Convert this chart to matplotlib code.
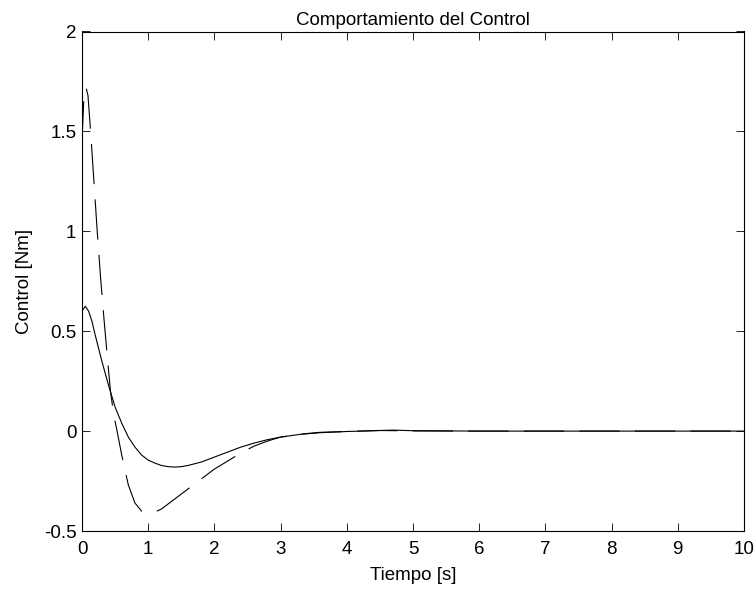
import matplotlib
matplotlib.use("Agg")
import matplotlib.pyplot as plt

plt.rcParams['font.family'] = ['Liberation Sans', 'DejaVu Sans']
plt.rcParams['lines.scale_dashes'] = False

# solid curve
t_solid = [0, 0.05, 0.1, 0.15, 0.2, 0.3, 0.4, 0.5, 0.6, 0.7, 0.8, 0.9, 1.0,
           1.1, 1.2, 1.3, 1.4, 1.5, 1.6, 1.8, 2.0, 2.2, 2.4, 2.6, 2.8, 3.0,
           3.3, 3.6, 4.0, 4.4, 4.7, 5.0, 6, 7, 8, 9, 10]
u_solid = [0.60, 0.625, 0.60, 0.55, 0.48, 0.35, 0.23, 0.12, 0.04, -0.03,
           -0.08, -0.12, -0.145, -0.16, -0.172, -0.178, -0.18, -0.178,
           -0.172, -0.155, -0.13, -0.105, -0.08, -0.06, -0.043, -0.03,
           -0.016, -0.008, -0.002, 0.002, 0.005, 0.002, 0, 0, 0, 0, 0]

# dashed curve
t_dash = [0, 0.03, 0.06, 0.09, 0.13, 0.18, 0.23, 0.28, 0.33, 0.38, 0.43,
          0.48, 0.53, 0.6, 0.7, 0.8, 0.9, 1.0, 1.1, 1.2, 1.4, 1.6, 1.8,
          2.0, 2.2, 2.4, 2.6, 2.8, 3.0, 3.3, 3.6, 4.0, 4.5, 5, 6, 10]
u_dash = [1.45, 1.68, 1.72, 1.68, 1.5, 1.25, 1.0, 0.77, 0.57, 0.38, 0.2,
          0.08, 0.0, -0.12, -0.27, -0.36, -0.40, -0.41, -0.405, -0.39,
          -0.34, -0.29, -0.24, -0.19, -0.15, -0.11, -0.075, -0.05, -0.03,
          -0.015, -0.006, -0.002, 0.003, 0.001, 0, 0]

xticks = list(range(0, 11))
yticks = [-0.5, 0, 0.5, 1, 1.5, 2]
ytick_labels = ['-0.5', '0', '0.5', '1', '1.5', '2']

fig = plt.figure(figsize=(7.56, 5.89), dpi=100)
ax = fig.add_axes([82 / 756, 1 - 531 / 589, (744 - 82) / 756, (531 - 31.5) / 589])

ax.plot(t_solid, u_solid, color='black', lw=0.8)
ax.plot(t_dash, u_dash, color='black', lw=0.8, dashes=(29, 11))

ax.set_xlim(0, 10)
ax.set_ylim(-0.5, 2)
ax.set_xticks(xticks)
ax.set_yticks(yticks)
ax.set_yticklabels(ytick_labels)
ax.tick_params(direction='in', top=True, right=True, length=5.8, width=0.6,
               labelsize=13.5)
ax.tick_params(axis='y', pad=4)
ax.tick_params(axis='x', pad=7)
for s in ax.spines.values():
    s.set_linewidth(0.8)

ax.set_title('Comportamiento del Control', fontsize=13.5, pad=4.5)
ax.set_xlabel('Tiempo [s]', fontsize=13.5, labelpad=7)
ax.set_ylabel('Control [Nm]', fontsize=13.5, labelpad=8)

fig.savefig('out.png', dpi=100)
